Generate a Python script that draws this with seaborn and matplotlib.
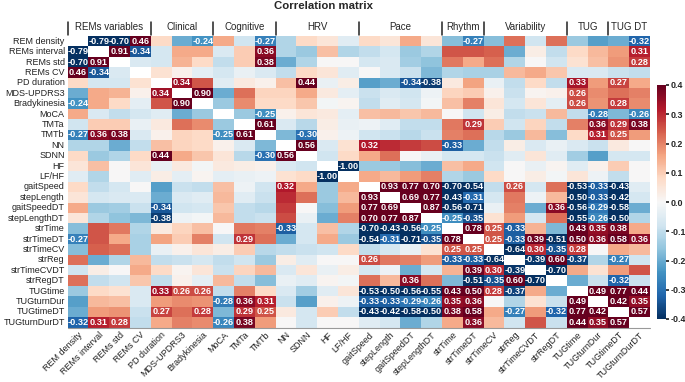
import numpy as np
import pandas as pd
import matplotlib
matplotlib.use("Agg")
import matplotlib.pyplot as plt
import seaborn as sns

labels = ["REM density", "REMs interval", "REMs std", "REMs CV", "PD duration",
          "MDS-UPDRS3", "Bradykinesia", "MoCA", "TMTa", "TMTb", "NN", "SDNN",
          "HF", "LF/HF", "gaitSpeed", "stepLength", "gaitSpeedDT", "stepLengthDT",
          "strTime", "strTimeDT", "strTimeCV", "strReg", "strTimeCVDT", "strRegDT",
          "TUGtime", "TUGturnDur", "TUGtimeDT", "TUGturnDurDT"]

groups = ["REMs variables", "Clinical", "Cognitive", "HRV", "Pace", "Rhythm",
          "Variability", "TUG", "TUG DT"]
group_sizes = [4, 3, 3, 4, 4, 2, 4, 2, 2]

# lower triangle of the correlation matrix (row r holds columns 0..r-1)
lower = [
    [],
    [-0.79],
    [-0.70, 0.91],
    [0.46, -0.34, -0.06],
    [0.08, -0.07, -0.07, 0.06],
    [-0.20, 0.15, 0.14, 0.02, 0.34],
    [-0.24, 0.15, 0.08, -0.04, 0.25, 0.90],
    [0.15, -0.06, -0.10, -0.07, -0.05, -0.20, -0.15],
    [-0.08, 0.10, 0.10, -0.03, 0.04, 0.22, 0.19, -0.15],
    [-0.27, 0.36, 0.38, -0.06, 0.02, 0.09, 0.08, -0.25, 0.61],
    [-0.12, -0.12, -0.20, -0.10, 0.12, 0.09, 0.08, 0.02, -0.06, -0.18],
    [0.08, -0.15, -0.12, 0.08, 0.44, 0.15, 0.11, 0.05, -0.11, -0.30, 0.56],
    [0.05, 0.12, 0.00, 0.05, -0.03, 0.04, -0.01, 0.04, 0.03, 0.02, -0.06, -0.08],
    [-0.05, -0.12, 0.00, -0.05, 0.03, -0.04, 0.01, -0.04, -0.03, -0.02, 0.06, 0.08, -1.00],
    [0.08, -0.10, -0.07, 0.00, -0.22, -0.09, -0.10, 0.12, -0.02, -0.08, 0.32, 0.15, -0.15, 0.15],
    [0.05, -0.07, -0.06, -0.06, -0.20, -0.06, -0.05, 0.13, -0.05, -0.09, 0.30, 0.22, -0.15, 0.13, 0.93],
    [0.15, -0.15, -0.14, -0.09, -0.34, -0.08, -0.07, 0.11, -0.10, -0.11, 0.28, 0.00, -0.17, 0.17, 0.77, 0.69],
    [0.05, -0.12, -0.16, -0.18, -0.38, -0.02, -0.01, 0.13, -0.10, -0.09, 0.26, -0.03, -0.20, 0.20, 0.70, 0.77, 0.87],
    [-0.17, 0.25, 0.21, -0.12, 0.04, 0.09, 0.12, 0.00, 0.21, 0.20, -0.33, -0.07, 0.12, -0.12, -0.70, -0.43, -0.56, -0.25],
    [-0.27, 0.25, 0.15, -0.13, 0.16, 0.10, 0.20, -0.08, 0.29, 0.22, -0.20, -0.07, 0.15, -0.15, -0.54, -0.31, -0.71, -0.35, 0.78],
    [-0.17, 0.24, 0.22, -0.13, -0.03, 0.02, 0.05, 0.03, 0.10, -0.11, -0.10, -0.09, -0.08, 0.08, -0.10, -0.07, -0.03, 0.06, 0.25, 0.25],
    [0.22, -0.20, -0.12, 0.13, -0.10, -0.09, -0.07, -0.10, -0.08, -0.15, 0.03, -0.05, 0.00, 0.00, 0.26, 0.21, 0.20, 0.17, -0.33, -0.33, -0.64],
    [-0.08, 0.03, 0.00, 0.15, 0.08, 0.01, 0.05, -0.09, 0.09, 0.13, -0.06, 0.05, -0.03, 0.03, -0.07, -0.02, -0.20, -0.07, 0.14, 0.39, 0.30, -0.39],
    [0.22, -0.10, -0.08, 0.11, -0.10, 0.02, -0.04, 0.13, -0.10, -0.17, -0.03, -0.05, 0.01, -0.01, 0.22, 0.13, 0.36, 0.22, -0.18, -0.51, -0.35, 0.60, -0.70],
    [-0.15, 0.08, 0.06, -0.06, 0.33, 0.26, 0.26, -0.10, 0.20, 0.08, -0.06, -0.14, -0.05, 0.05, -0.53, -0.50, -0.56, -0.55, 0.43, 0.50, 0.28, -0.37, 0.15, -0.20],
    [-0.22, 0.13, 0.12, -0.06, 0.17, 0.19, 0.18, -0.28, 0.36, 0.31, -0.09, -0.22, 0.02, -0.02, -0.33, -0.33, -0.29, -0.26, 0.35, 0.36, 0.00, -0.12, 0.06, -0.09, 0.49],
    [-0.20, 0.17, 0.18, -0.09, 0.27, 0.22, 0.28, -0.18, 0.29, 0.25, 0.04, -0.07, 0.10, -0.10, -0.43, -0.42, -0.58, -0.50, 0.38, 0.58, 0.15, -0.27, 0.17, -0.32, 0.77, 0.42],
    [-0.32, 0.31, 0.28, -0.10, 0.15, 0.20, 0.19, -0.26, 0.38, 0.17, 0.00, -0.07, 0.00, 0.00, -0.05, -0.07, -0.20, -0.12, 0.15, 0.36, 0.13, -0.08, 0.25, -0.09, 0.44, 0.35, 0.57],
]

# significant pairs (row, col) that carry a printed coefficient
significant = [
    (1, 0), (2, 0), (2, 1), (3, 0), (3, 1), (5, 4), (6, 0), (6, 5),
    (9, 0), (9, 1), (9, 2), (9, 7), (9, 8), (11, 4), (11, 9), (11, 10),
    (13, 12), (14, 10), (15, 14), (16, 4), (16, 14), (16, 15),
    (17, 4), (17, 14), (17, 15), (17, 16),
    (18, 10), (18, 14), (18, 15), (18, 16), (18, 17),
    (19, 0), (19, 8), (19, 14), (19, 15), (19, 16), (19, 17), (19, 18),
    (20, 18), (20, 19), (21, 14), (21, 18), (21, 19), (21, 20),
    (22, 19), (22, 20), (22, 21),
    (23, 16), (23, 19), (23, 20), (23, 21), (23, 22),
    (24, 4), (24, 5), (24, 6), (24, 14), (24, 15), (24, 16), (24, 17),
    (24, 18), (24, 19), (24, 20), (24, 21),
    (25, 7), (25, 8), (25, 9), (25, 14), (25, 15), (25, 16), (25, 17),
    (25, 18), (25, 19), (25, 24),
    (26, 4), (26, 6), (26, 8), (26, 9), (26, 14), (26, 15), (26, 16), (26, 17),
    (26, 18), (26, 19), (26, 21), (26, 23), (26, 24), (26, 25),
    (27, 0), (27, 1), (27, 2), (27, 7), (27, 8), (27, 19), (27, 24), (27, 25), (27, 26),
]

n = len(labels)
for i, row in enumerate(lower):
    assert len(row) == i, (i, len(row))

mat = np.full((n, n), np.nan)
for r in range(n):
    for c in range(r):
        mat[r, c] = lower[r][c]
        mat[c, r] = lower[r][c]

annot = np.full((n, n), "", dtype=object)
for r, c in significant:
    txt = f"{mat[r, c]:.2f}"
    annot[r, c] = txt
    annot[c, r] = txt

df = pd.DataFrame(mat, index=labels, columns=labels)
mask = np.eye(n, dtype=bool)

sns.set_theme(style="white")
plt.rcParams["font.family"] = ["Liberation Sans", "DejaVu Sans"]

W, H = 685, 382
fig = plt.figure(figsize=(W / 100, H / 100), dpi=100)
ax = fig.add_axes([67.5 / W, 1 - 327.5 / H, (650 - 67.5) / W, (327.5 - 36) / H])
cax = fig.add_axes([657 / W, 1 - 319 / H, 9 / W, (319 - 85) / H])

sns.heatmap(df, mask=mask, cmap="RdBu_r", vmin=-0.4, vmax=0.4, center=0,
            annot=annot, fmt="", annot_kws={"size": 6.6, "weight": "bold", "color": "white"},
            ax=ax, cbar_ax=cax, xticklabels=labels, yticklabels=labels)

ax.tick_params(axis="both", labelsize=6.5, length=0, pad=2, colors="#222222")
ax.set_xticklabels(labels, rotation=45, ha="right", rotation_mode="anchor")
ax.set_yticklabels(labels, rotation=0)
ax.set_xlabel("")
ax.set_ylabel("")
ax.axhline(n, color="#999999", lw=0.8, clip_on=False)

cax.tick_params(labelsize=6.4, length=2, pad=1.5)
cax.set_yticks([0.4, 0.3, 0.2, 0.1, 0.0, -0.1, -0.2, -0.3, -0.4])
cax.set_yticklabels(["0.4", "0.3", "0.2", "0.1", "0.0", "-0.1", "-0.2", "-0.3", "-0.4"],
                    fontweight="bold")

# group headers
start = 0
bounds = [0]
for g, s in zip(groups, group_sizes):
    ax.text(start + s / 2, -0.82, g, ha="center", va="center", fontsize=7,
            clip_on=False)
    start += s
    bounds.append(start)
for b in bounds[:-1]:
    ax.plot([b, b], [-0.1, -1.3], color="#222222", lw=1.1, clip_on=False)

fig.text(323 / W, 1 - 6 / H, "Correlation matrix", ha="center", va="center",
         fontsize=8.2, fontweight="bold")

fig.savefig("out.png", dpi=100)
